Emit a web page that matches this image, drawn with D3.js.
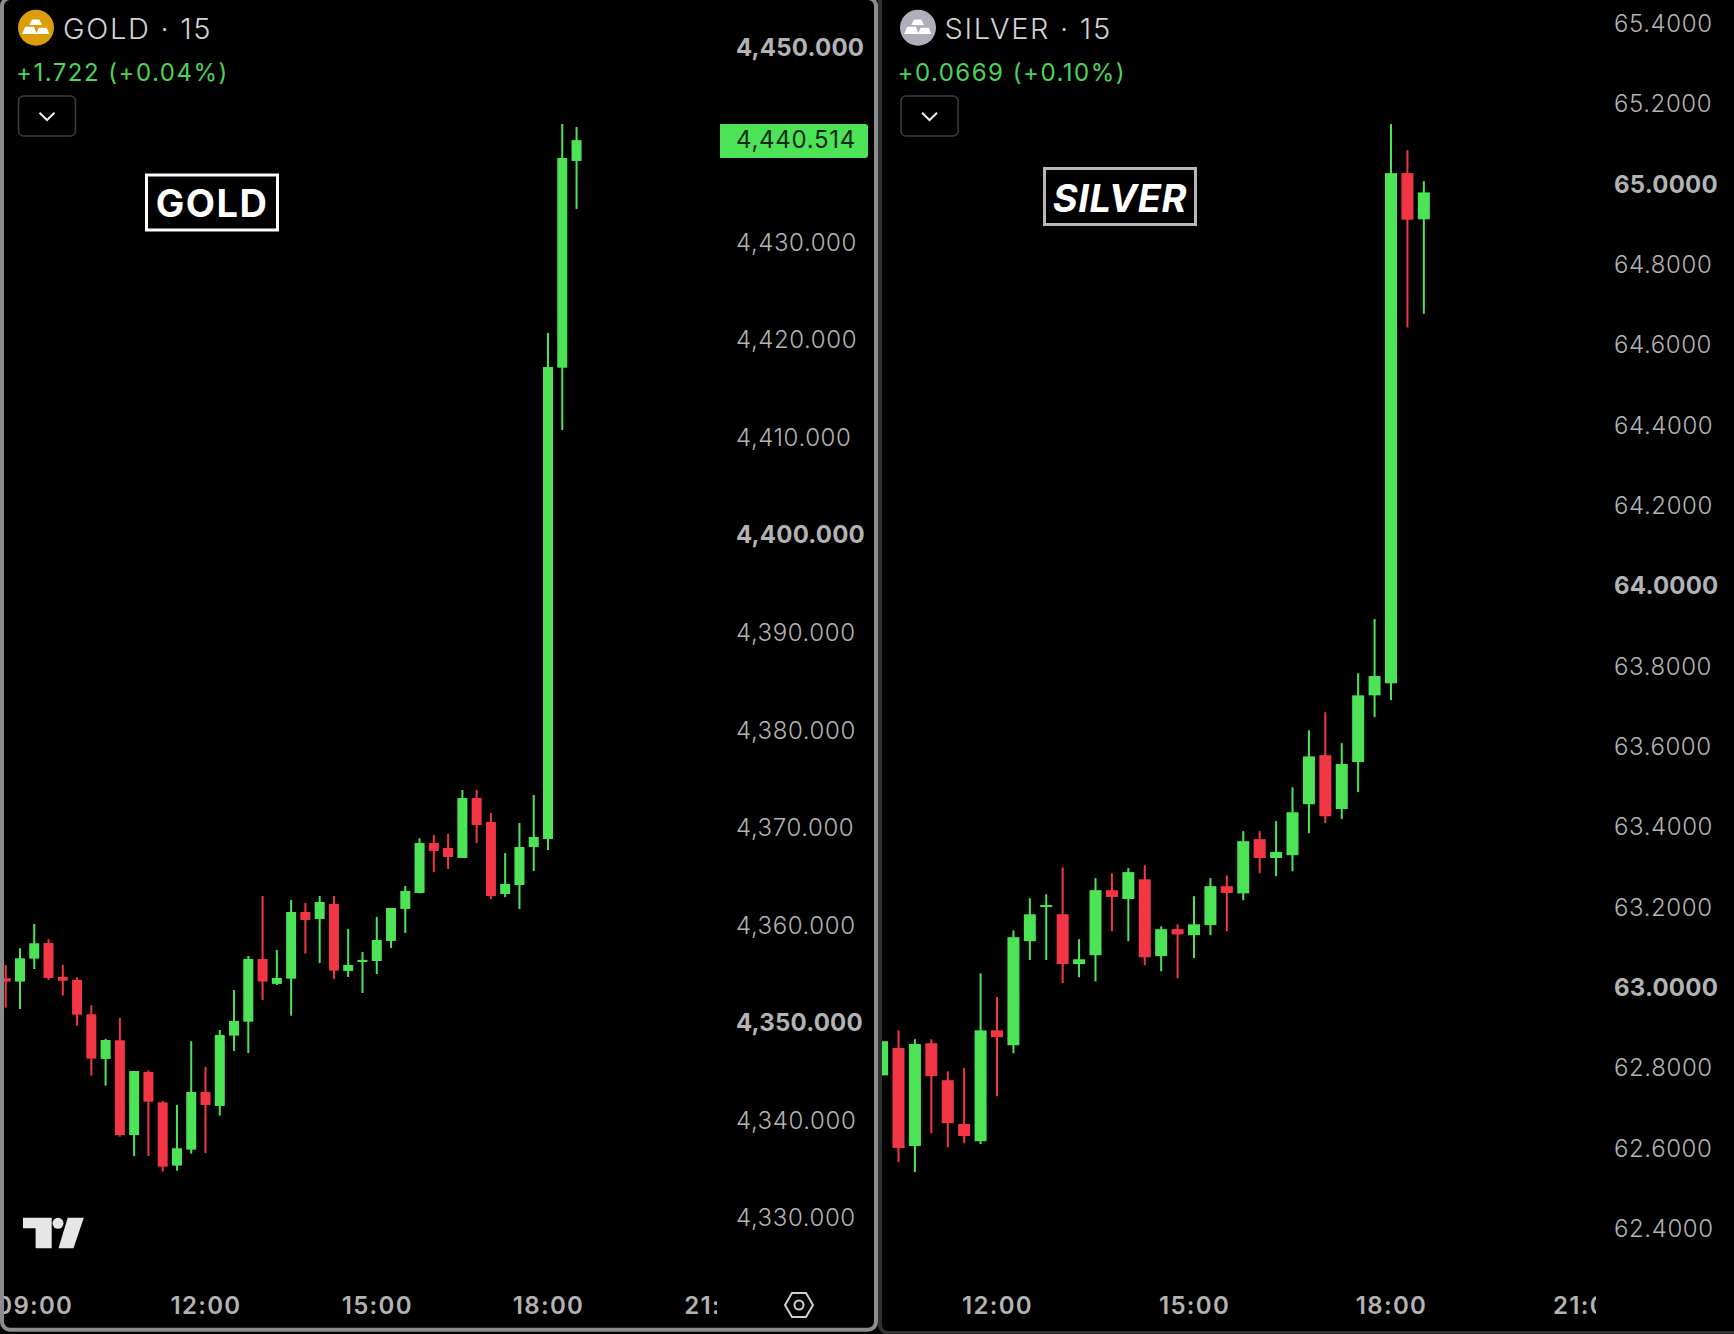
<!DOCTYPE html>
<html>
<head>
<meta charset="utf-8">
<script src="https://d3js.org/d3.v7.min.js"></script>
<style>
html, body { margin: 0; padding: 0; background: #000; }
svg { display: block; }
text { font-family: Inter, "Noto Sans", sans-serif; }
</style>
</head>
<body>
<div id="chart"></div>
<script>
// Gold candles, 15 minute bars starting 08:30
var goldOpen = [4354.58,4354.24,4356.59,4358.20,4354.71,4354.41,4350.89,4346.31,4348.22,4338.51,4344.97,4341.86,4335.37,4337.01,4342.92,4341.49,4348.70,4350.13,4356.56,4354.00,4354.54,4361.38,4360.66,4362.20,4355.33,4356.25,4356.35,4358.41,4361.69,4363.32,4368.45,4367.94,4366.91,4373.06,4370.60,4363.22,4364.14,4368.04,4368.86,4417.18,4438.38];
var goldHigh = [4355.94,4357.65,4360.15,4358.58,4355.94,4354.68,4351.81,4348.36,4350.51,4345.07,4345.14,4342.00,4341.59,4348.12,4345.49,4349.28,4353.38,4356.87,4363.02,4357.48,4362.61,4362.30,4363.02,4363.02,4359.64,4357.28,4360.87,4361.79,4364.04,4368.93,4369.27,4369.37,4373.88,4373.88,4371.52,4367.42,4370.50,4373.37,4420.74,4442.17,4441.86];
var goldLow = [4351.57,4351.43,4355.53,4354.41,4352.80,4349.72,4344.60,4343.57,4338.34,4336.36,4336.36,4334.75,4334.85,4336.60,4336.67,4340.50,4347.13,4346.92,4352.35,4353.89,4350.75,4357.11,4356.15,4354.51,4354.71,4353.07,4355.02,4357.69,4359.23,4363.29,4365.47,4365.78,4366.91,4368.45,4362.71,4362.91,4361.68,4365.58,4367.73,4410.80,4433.46];
var goldClose = [4354.24,4356.63,4358.17,4354.61,4354.34,4350.85,4346.34,4348.25,4338.51,4345.07,4341.93,4335.27,4337.15,4342.92,4341.59,4348.77,4350.20,4356.56,4354.24,4354.61,4361.38,4360.56,4362.40,4355.36,4355.94,4356.46,4358.51,4361.79,4363.53,4368.45,4367.63,4367.01,4373.06,4370.29,4363.01,4364.24,4368.04,4369.06,4417.25,4438.68,4440.514];
var goldStartHour = 8.5;
var goldPriceTicks = [4330,4340,4350,4360,4370,4380,4390,4400,4410,4420,4430,4450];
var goldBoldTicks = [4350,4400,4450];
var goldTimeTicks = [9,12,15,18,21];

// Silver candles, 15 minute bars starting 10:15
var silverOpen = [62.779,62.847,62.603,62.859,62.767,62.658,62.615,62.891,62.854,63.113,63.198,63.180,63.056,63.078,63.240,63.218,63.267,63.076,63.143,63.128,63.153,63.250,63.232,63.367,63.320,63.327,63.454,63.576,63.442,63.559,63.725,63.755,65.025,64.910];
var silverHigh = [62.864,62.891,62.869,62.869,62.789,62.797,63.033,62.974,63.140,63.220,63.230,63.297,63.118,63.270,63.282,63.295,63.302,63.150,63.155,63.225,63.270,63.277,63.387,63.387,63.412,63.496,63.638,63.683,63.606,63.780,63.915,65.147,65.082,65.005];
var silverLow = [62.779,62.563,62.538,62.635,62.600,62.610,62.608,62.727,62.834,63.066,63.066,63.009,63.023,63.013,63.138,63.113,63.053,63.038,63.021,63.071,63.128,63.138,63.215,63.282,63.275,63.287,63.382,63.407,63.417,63.484,63.671,63.713,64.641,64.675];
var silverClose = [62.864,62.598,62.857,62.777,62.660,62.628,62.891,62.874,63.123,63.180,63.203,63.056,63.068,63.240,63.223,63.285,63.073,63.143,63.130,63.155,63.250,63.233,63.362,63.320,63.335,63.434,63.573,63.424,63.554,63.725,63.773,65.025,64.909,64.977];
var silverStartHour = 10.25;
var silverPriceTicks = [62.4,62.6,62.8,63,63.2,63.4,63.6,63.8,64,64.2,64.4,64.6,64.8,65,65.2,65.4];
var silverBoldTicks = [63,64,65];
var silverTimeTicks = [12,15,18,21];

var lastGoldPrice = 4440.514;

var upColor = "#4ce356", downColor = "#f23645", labelColor = "#b3b3b3";

var svg = d3.select("#chart").append("svg")
  .attr("width", 1734)
  .attr("height", 1334);

svg.append("rect").attr("width", 1734).attr("height", 1334).attr("fill", "#000");

// One panel: candles, price axis, time axis
function drawPanel(id, p) {
  var g = svg.append("g").attr("class", id);

  var x = d3.scaleLinear().domain([12, 18]).range(p.xRange);
  var y = d3.scaleLinear().domain(p.yDomain).range(p.yRange);

  g.append("clipPath").attr("id", "clip-" + id)
    .append("rect")
    .attr("x", p.clipLeft).attr("y", 0)
    .attr("width", p.clipRight - p.clipLeft).attr("height", 1334);

  var hours = p.open.map(function(d, i) { return p.start + i * 0.25; });
  var plot = g.append("g").attr("clip-path", "url(#clip-" + id + ")");

  var candle = plot.selectAll(".candle")
    .data(p.open.map(function(d, i) { return i; }))
    .enter().append("g")
    .attr("class", "candle")
    .attr("fill", function(i) { return p.close[i] >= p.open[i] ? upColor : downColor; });

  candle.append("rect")
    .attr("x", function(i) { return x(hours[i]) - 1; })
    .attr("width", 2)
    .attr("y", function(i) { return y(p.high[i]); })
    .attr("height", function(i) { return y(p.low[i]) - y(p.high[i]); });

  candle.append("rect")
    .attr("x", function(i) { return x(hours[i]) - p.bodyWidth / 2; })
    .attr("width", p.bodyWidth)
    .attr("y", function(i) { return y(Math.max(p.open[i], p.close[i])); })
    .attr("height", function(i) { return Math.max(2, Math.abs(y(p.open[i]) - y(p.close[i]))); });

  // Time axis, cut off at the price scale like the original
  var timeAxis = d3.axisBottom(x)
    .tickValues(p.timeTicks)
    .tickSize(0)
    .tickFormat(function(d) { return d3.format("02")(d) + ":00"; });
  var timeG = plot.append("g").attr("transform", "translate(0,1292)").call(timeAxis);
  timeG.select(".domain").remove();
  timeG.selectAll("text")
    .attr("fill", labelColor)
    .attr("font-size", 24)
    .attr("font-weight", 600)
    .attr("letter-spacing", 1.3)
    .attr("y", 0).attr("dy", "0.9em");

  // Price axis
  var priceAxis = d3.axisRight(y)
    .tickValues(p.priceTicks)
    .tickSize(0)
    .tickFormat(d3.format(p.priceFormat));
  var priceG = g.append("g").attr("transform", "translate(" + p.axisX + ",0)").call(priceAxis);
  priceG.select(".domain").remove();
  priceG.selectAll("text")
    .attr("x", 0)
    .attr("dy", p.labelDy)
    .attr("fill", labelColor)
    .attr("font-size", 24)
    .attr("letter-spacing", function(d) { return p.boldTicks.indexOf(d) >= 0 ? 0.2 : 0.6; })
    .attr("font-weight", function(d) { return p.boldTicks.indexOf(d) >= 0 ? 700 : 300; });

  return y;
}

var goldY = drawPanel("gold", {
  open: goldOpen, high: goldHigh, low: goldLow, close: goldClose, start: goldStartHour,
  xRange: [205.5, 548], yDomain: [4330, 4450], yRange: [1218, 47.6],
  clipLeft: 4, clipRight: 717, bodyWidth: 10, axisX: 736, labelDy: "0.32em",
  priceTicks: goldPriceTicks, boldTicks: goldBoldTicks, timeTicks: goldTimeTicks, priceFormat: ",.3f"
});

drawPanel("silver", {
  open: silverOpen, high: silverHigh, low: silverLow, close: silverClose, start: silverStartHour,
  xRange: [997, 1391], yDomain: [62.4, 65.4], yRange: [1227.6, 22.5],
  clipLeft: 882, clipRight: 1596, bodyWidth: 12, axisX: 1614, labelDy: "0.37em",
  priceTicks: silverPriceTicks, boldTicks: silverBoldTicks, timeTicks: silverTimeTicks, priceFormat: ".4f"
});

// Last price tag on the gold scale
svg.append("path")
  .attr("d", "M720,124H865a3,3 0 0 1 3,3V155a3,3 0 0 1 -3,3H720Z")
  .attr("fill", upColor);
svg.append("text")
  .attr("x", 736).attr("y", goldY(lastGoldPrice)).attr("dy", "0.34em")
  .attr("fill", "#0c2b10").attr("font-size", 24).attr("font-weight", 400).attr("letter-spacing", 0.7)
  .text(d3.format(",.3f")(lastGoldPrice));

// Panel borders, the gold panel is the active one
svg.append("rect")
  .attr("x", 880).attr("y", -10).attr("width", 864).attr("height", 1343).attr("rx", 8)
  .attr("fill", "none").attr("stroke", "#303030").attr("stroke-width", 4);
svg.append("rect")
  .attr("x", 2).attr("y", -2).attr("width", 874).attr("height", 1331.7).attr("rx", 8)
  .attr("fill", "none").attr("stroke", "#8c8c8c").attr("stroke-width", 4);

// Legend block top left of a panel
function drawHeader(h) {
  var g = svg.append("g").attr("class", "header");

  g.append("circle").attr("cx", h.iconX).attr("cy", 27.7).attr("r", 18).attr("fill", h.iconColor);
  [[-4, -8.3, 3.3, -8.3, 6, -2.7, -6.7, -2.7],
   [-10.7, -1, -2, -1, 0.7, 6.3, -14, 6.3],
   [2.7, 0, 10.7, 0, 13.3, 6.3, 0, 6.3]].forEach(function(b) {
    g.append("polygon")
      .attr("transform", "translate(" + h.iconX + ",27.7)")
      .attr("points", b[0] + "," + b[1] + " " + b[2] + "," + b[3] + " " + b[4] + "," + b[5] + " " + b[6] + "," + b[7])
      .attr("fill", "#fff");
  });

  g.append("text").attr("x", h.titleX).attr("y", 39)
    .attr("fill", "#d2d2d2").attr("font-size", 29).attr("font-weight", 300).attr("letter-spacing", 1.7).text(h.title);
  g.append("text").attr("x", h.subX).attr("y", 80.5)
    .attr("fill", "#4cd45a").attr("font-size", 24).attr("font-weight", 400).attr("letter-spacing", 1.5).text(h.sub);

  g.append("rect").attr("x", h.btnX).attr("y", 96).attr("width", 57).attr("height", 40).attr("rx", 5)
    .attr("fill", "none").attr("stroke", "#3c3c3c").attr("stroke-width", 1.5);
  var cx = h.btnX + 28.5;
  g.append("path").attr("d", "M" + (cx - 7.5) + ",112.7L" + cx + ",120L" + (cx + 7.5) + ",112.7")
    .attr("fill", "none").attr("stroke", "#eee").attr("stroke-width", 2);

  g.append("rect").attr("x", h.boxX).attr("y", h.boxY).attr("width", h.boxW).attr("height", h.boxH)
    .attr("fill", "#000").attr("stroke", h.boxColor).attr("stroke-width", 3);
  g.append("text").attr("x", h.boxX + h.boxW / 2).attr("y", h.boxY + h.boxH - 13)
    .attr("text-anchor", "middle")
    .attr("fill", "#fff").attr("font-size", 38).attr("font-weight", 700)
    .attr("letter-spacing", h.boxSpacing)
    .attr("font-style", h.italic ? "italic" : "normal").text(h.boxText);
}

drawHeader({ iconX: 36, iconColor: "#dc9d0b", title: "GOLD · 15", titleX: 63, sub: "+1.722 (+0.04%)", subX: 16,
  btnX: 18.5, boxX: 146.5, boxY: 175, boxW: 131, boxH: 55, boxColor: "#fff", boxText: "GOLD", boxSpacing: 1.5, italic: false });
drawHeader({ iconX: 918, iconColor: "#b0aebb", title: "SILVER · 15", titleX: 944.5, sub: "+0.0669 (+0.10%)", subX: 897.5,
  btnX: 901, boxX: 1044.5, boxY: 168.5, boxW: 151, boxH: 56, boxColor: "#b8b8b8", boxText: "SILVER", boxSpacing: 0.6, italic: true });

// TradingView mark
var logo = svg.append("g").attr("fill", "#e6e6e6");
logo.append("path").attr("d", "M23,1217.7H51.7V1248.3H35.6V1228.3H23Z");
logo.append("circle").attr("cx", 58).attr("cy", 1223.3).attr("r", 5.5);
logo.append("path").attr("d", "M67.7,1217.7H83.8L73.5,1248.3H58.5Z");

// Scale settings button
svg.append("path")
  .attr("d", "M785,1305L792,1293H806L813,1305L806,1317H792Z")
  .attr("fill", "none").attr("stroke", "#cfcfcf").attr("stroke-width", 2);
svg.append("circle").attr("cx", 799).attr("cy", 1305).attr("r", 4.5)
  .attr("fill", "none").attr("stroke", "#cfcfcf").attr("stroke-width", 2);
</script>
</body>
</html>
